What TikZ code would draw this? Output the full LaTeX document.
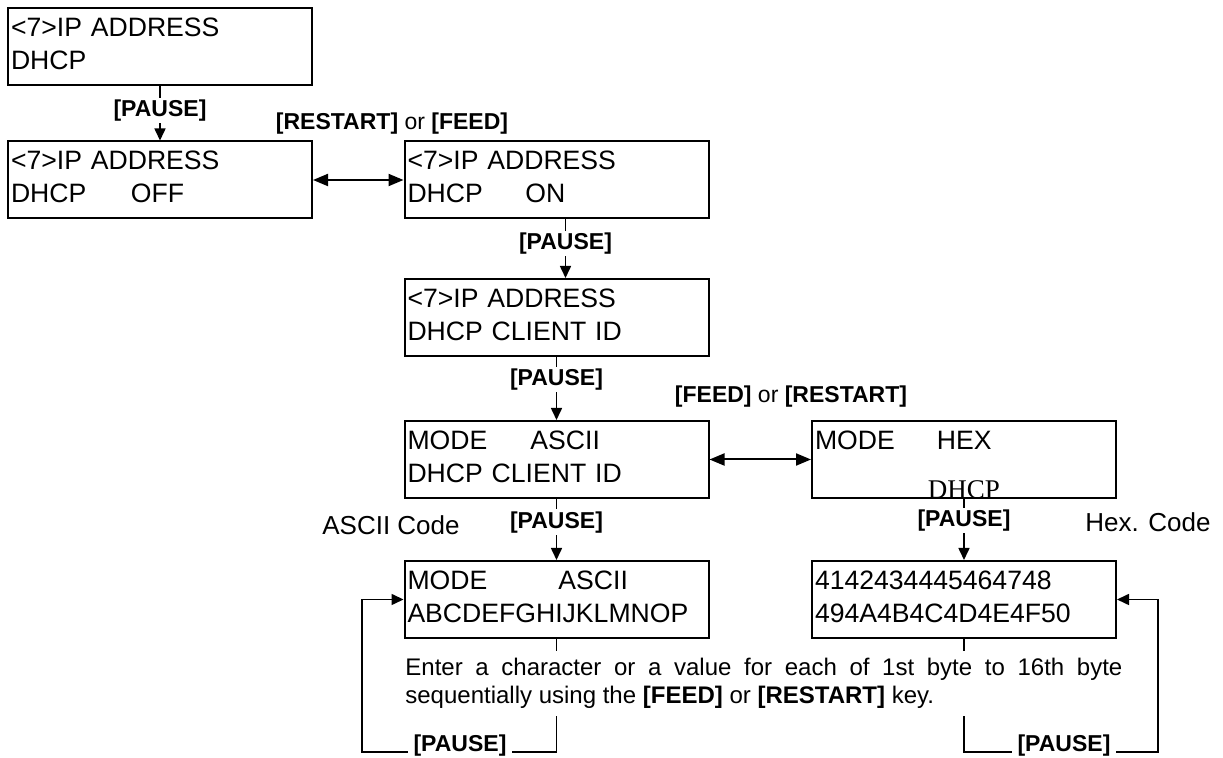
\documentclass[tikz,border=0pt]{standalone}
\usepackage{fontspec}
\setmainfont{Liberation Sans}
\newfontfamily\timesfont{Liberation Serif}
\usetikzlibrary{arrows.meta}
\newcommand{\padto}[2]{\makebox[#1][l]{#2}}
\begin{document}
\begin{tikzpicture}[x=0.5pt,y=-0.5pt,
  lcd/.style={draw,line width=1pt,minimum width=152pt,minimum height=38.5pt,text width=149pt,inner xsep=1.5pt,text depth=19.4pt,align=left,font=\fontsize{13.3}{16.5}\selectfont},
  key/.style={fill=white,inner xsep=3pt,inner ysep=1pt,font=\fontsize{11.5}{13}\selectfont\bfseries},
  code/.style={font=\fontsize{13}{15}\selectfont},
  arr/.style={line width=0.8pt,-{Triangle[length=6pt,width=5.5pt]}},
  twoway/.style={line width=1pt,{Triangle[length=7.5pt,width=6pt]}-{Triangle[length=7.5pt,width=6pt]}}]
\useasboundingbox (0,0) rectangle (1223,758);
\node[lcd] (top) at (160,46.5) {<7>IP ADDRESS\\DHCP};
\node[lcd] (off) at (160,180) {<7>IP ADDRESS\\\padto{60pt}{DHCP}OFF};
\node[lcd] (on) at (556.5,180) {<7>IP ADDRESS\\\padto{59pt}{DHCP}ON};
\node[lcd] (cid) at (556.5,317.5) {<7>IP ADDRESS\\DHCP CLIENT ID};
\node[lcd] (asc) at (556.5,459.5) {\padto{61.5pt}{MODE}ASCII\\DHCP CLIENT ID};
\node[lcd] (hex) at (964,459.5) {\padto{61pt}{MODE}HEX\\\mbox{}};
\node[lcd] (ascv) at (556.5,599.5) {\padto{75.5pt}{MODE}ASCII\\ABCDEFGHIJKLMNOP};
\node[lcd] (hexv) at (964,599.5) {4142434445464748\\494A4B4C4D4E4F50};
\node[anchor=base,inner sep=0pt,font=\timesfont\fontsize{13.5}{16}\selectfont] (hexdhcp) at (hex.south) {DHCP};
\coordinate (lb) at (362,752);
\coordinate (rb) at (1158,752);
\draw[arr] (top) -- (off) node[key,pos=0.45] {[PAUSE]};
\draw[arr] ([xshift=4.5pt]on.south) -- ([xshift=4.5pt]cid.north) node[key,pos=0.41] {[PAUSE]};
\draw[arr] (cid) -- (asc) node[key,pos=0.36] {[PAUSE]};
\draw[arr] (asc) -- (ascv) node[key,pos=0.38] {[PAUSE]};
\draw[arr] (hex) -- (hexv) node[key,pos=0.35] {[PAUSE]};
\draw[twoway] (off) -- (on);
\draw[twoway] (asc) -- (hex);
\draw[arr] (ascv.south) |- (lb) |- (ascv.west);
\draw[arr] (hexv.south) |- (rb) |- (hexv.east);
\node[key] (lp) at (460,746) {[PAUSE]};
\node[key] (rp) at (1064,746) {[PAUSE]};
\node[key] (rf) at (392,124) {[RESTART] \textmd{or} [FEED]};
\node[key] (fr) at (791,397) {[FEED] \textmd{or} [RESTART]};
\node[code] (asccode) at (391,525) {ASCII Code};
\node[code] (hexcode) at (1148,522) {Hex. Code};
\node[anchor=north west,fill=white,inner xsep=0pt,inner ysep=3.5pt,align=left,font=\fontsize{12}{14}\selectfont] (note) at (405,651) {\makebox[358.5pt][s]{Enter a character or a value for each of 1st byte to 16th byte}\\sequentially using the \textbf{[FEED]} or \textbf{[RESTART]} key.};
\end{tikzpicture}
\end{document}
